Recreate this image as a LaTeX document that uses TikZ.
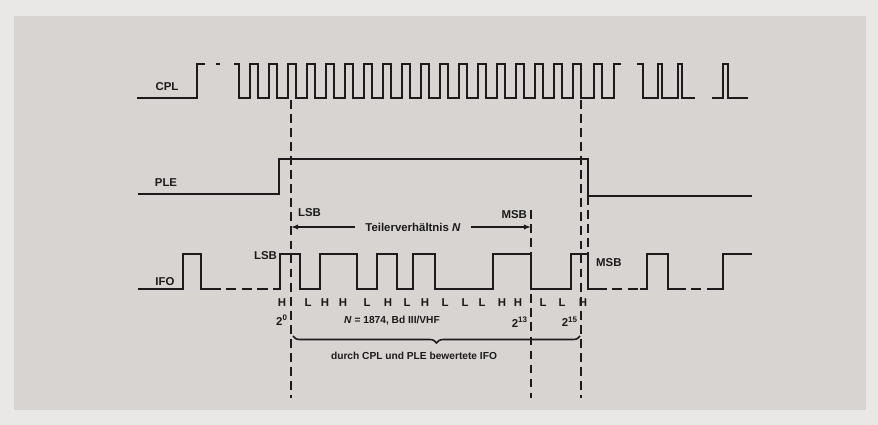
\documentclass[tikz,border=0pt]{standalone}
\usepackage{fontspec}
\setmainfont{Liberation Sans}
\usetikzlibrary{arrows.meta,decorations.pathreplacing}
\definecolor{paper}{RGB}{234,232,230}
\definecolor{sheet}{RGB}{216,212,210}
\definecolor{ink}{RGB}{28,26,26}

\begin{document}
\begin{tikzpicture}[
  x=0.02cm,y=-0.02cm,
  sig/.style={ink,line width=1.3pt,line join=miter},
  gap/.style={sig,dash pattern=on 6pt off 3pt},
  marker/.style={ink,line width=0.9pt,dash pattern=on 5pt off 3pt},
  dim/.style={ink,line width=0.9pt,-{Latex[length=4pt,width=3pt]}},
  label/.style={font=\fontsize{6.5}{8}\selectfont\bfseries,text=ink,inner sep=1pt},
  bit/.style={label,anchor=base},
  note/.style={font=\fontsize{5.8}{7}\selectfont\bfseries,text=ink,inner sep=1pt}
]
\fill[paper] (0,0) rectangle (878,425);
\fill[sheet] (14,16) rectangle (866,410);
\useasboundingbox (0,0) rectangle (878,425);

% signal names
\node[label] (cpl) at (167,87) {CPL};
\node[label] (ple) at (166,183) {PLE};
\node[label] (ifo) at (165,282) {IFO};

% CPL
\draw[sig] (137,98) -- (197,98) -- (197,64) -- (205,64);
\draw[sig] (216,64) -- (220,64);
\draw[sig] (234,64) -- (239,64) -- (239,98)
  \foreach \i in {0,...,17} { -- ++(11,0) -- ++(0,-34) -- ++(8,0) -- ++(0,34) }
  -- (594,98) -- (594,64) -- (602,64) -- (602,98) -- (614,98) -- (614,64) -- (621,64);
\draw[sig] (637,64) -- (643,64) -- (643,98) -- (658,98) -- (658,64) -- (662,64)
  -- (662,98) -- (678,98) -- (678,64) -- (682,64) -- (682,98) -- (695,98);
\draw[sig] (712,98) -- (723,98) -- (723,64) -- (728,64) -- (728,98) -- (748,98);

% PLE
\draw[sig] (138,194) -- (279,194) -- (279,159) -- (588,159) -- (588,196) -- (752,196);

% IFO
\draw[sig] (138,289) -- (183,289) -- (183,254) -- (201,254) -- (201,289) -- (210,289);
\draw[gap] (210,289) -- (274,289);
\draw[sig] (274,289) -- (280,289) -- (280,254) -- (300,254) -- (300,289) -- (320,289)
  -- (320,254) -- (357,254) -- (357,289) -- (377,289) -- (377,254) -- (397,254)
  -- (397,289) -- (413,289) -- (413,254) -- (435,254) -- (435,289) -- (493,289)
  -- (493,254) -- (531,254) -- (531,289) -- (571,289) -- (571,254) -- (588,254)
  -- (588,289) -- (596,289);
\draw[gap] (596,289) -- (640,289);
\draw[sig] (640,289) -- (647,289) -- (647,254) -- (668,254) -- (668,289) -- (675,289);
\draw[gap] (675,289) -- (716,289);
\draw[sig] (716,289) -- (723,289) -- (723,254) -- (752,254);

% marker lines
\coordinate (m0t) at (291,100);
\coordinate (m0b) at (291,398);
\coordinate (m13t) at (531,210);
\coordinate (m13b) at (531,398);
\coordinate (m15t) at (581,100);
\coordinate (m15b) at (581,398);
\coordinate (plet) at (588,196);
\coordinate (pleb) at (588,254);
\draw[marker] (m0t) -- (m0b);
\draw[marker] (m13t) -- (m13b);
\draw[marker] (m15t) -- (m15b);
\draw[marker] (plet) -- (pleb);

% divider ratio
\node[label,anchor=west] (lsbtop) at (296,213) {LSB};
\node[label,anchor=east] (msbtop) at (529,215) {MSB};
\node[label,inner xsep=6pt] (ratio) at (413,227) {Teilerverhältnis \textit{N}};
\draw[dim] (ratio.west) -- (ratio.west -| m0t);
\draw[dim] (ratio.east) -- (ratio.east -| m13t);
\node[label,anchor=east] (lsbifo) at (279,256) {LSB};
\node[label,anchor=west] (msbifo) at (594,263) {MSB};

% bits
\foreach \bx/\bv [count=\k] in {282/H,308/L,325/H,343/H,367/L,388/H,407/L,425/H,
    445/L,465/L,482/L,502/H,518/H,543/L,562/L,583/H}
  \node[bit] (b\k) at (\bx,306) {\bv};

\node[label,anchor=east] (p0) at (290,320) {2\textsuperscript{0}};
\node[note] (nval) at (392,321) {\textit{N} = 1874, Bd III/VHF};
\node[label,anchor=east] (p13) at (530,322) {2\textsuperscript{13}};
\node[label,anchor=east] (p15) at (580,322) {2\textsuperscript{15}};

\coordinate (br0) at (293,336);
\coordinate (br1) at (580,336);
\draw[ink,line width=0.9pt,decorate,decoration={brace,mirror,amplitude=4pt}] (br0) -- (br1);
\node[note] (eval) at (414,356) {durch CPL und PLE bewertete IFO};
\end{tikzpicture}
\end{document}
